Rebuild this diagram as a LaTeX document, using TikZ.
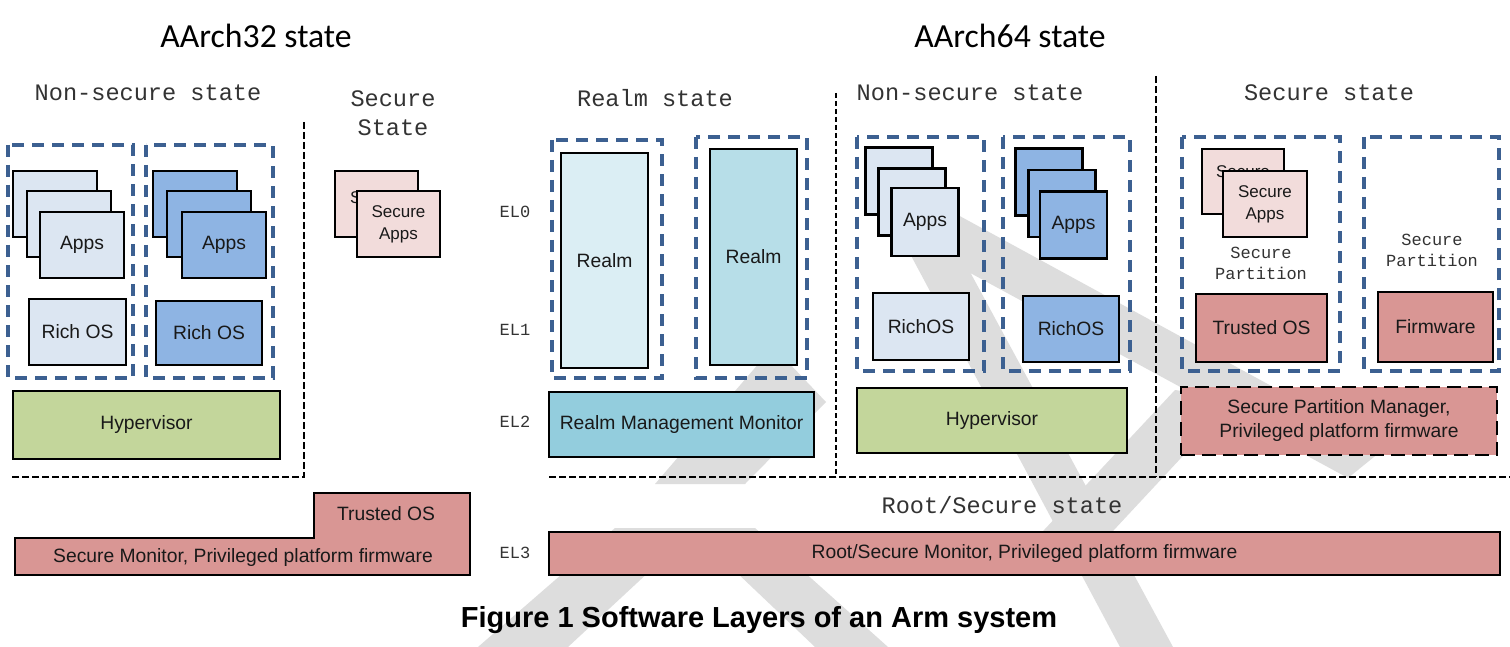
\documentclass[tikz,border=0pt]{standalone}
\usepackage{fontspec}
\setmainfont{Liberation Sans}
\newfontfamily\monof{Liberation Mono}
\newfontfamily\titlef{Carlito}
\definecolor{ltblue}{RGB}{220,230,242}
\definecolor{dkblue}{RGB}{142,180,227}
\definecolor{pinklt}{RGB}{242,220,219}
\definecolor{redc}{RGB}{217,150,148}
\definecolor{greenc}{RGB}{195,214,155}
\definecolor{realmA}{RGB}{219,238,244}
\definecolor{realmB}{RGB}{183,222,232}
\definecolor{rmmc}{RGB}{147,205,221}
\definecolor{grpc}{RGB}{60,96,145}
\definecolor{wmc}{RGB}{221,221,221}
\tikzset{
  bx/.style={draw=black, line width=2.7pt, inner sep=0pt, align=center, text=black!90,
    font=\fontsize{19.3}{24}\selectfont},
  ltb/.style={bx, fill=ltblue},
  dkb/.style={bx, fill=dkblue},
  sapp/.style={bx, fill=pinklt, font=\fontsize{17}{22}\selectfont},
  stxt/.style={inner sep=0pt, align=center, text=black!90, font=\fontsize{17}{22}\selectfont},
  redb/.style={bx, fill=redc},
  grp/.style={draw=grpc, line width=3.6pt, dash pattern=on 12pt off 8pt},
  divl/.style={draw=black, line width=2.3pt, dash pattern=on 7pt off 3pt},
  lbl/.style={font=\monof\fontsize{23.6}{29}\selectfont, text=black!80, align=center, inner sep=0pt},
  sml/.style={font=\monof\fontsize{17}{21}\selectfont, text=black!80, align=center, inner sep=0pt},
  ttl/.style={font=\titlef\fontsize{33.7}{38}\selectfont, inner sep=0pt},
}
\begin{document}
\begin{tikzpicture}[x=1pt,y=-1pt]
\useasboundingbox (0,0) rectangle (1510,647);
\fill[white] (0,0) rectangle (1510,647);

% watermark
\fill[wmc] (900,235) -- (950,235) -- (1173,647) -- (1120,647) -- cycle;
\fill[wmc] (956,214) -- (1385,448) -- (1348,478) -- (950,262) -- cycle;
\fill[wmc] (1030,545) -- (1175,390) -- (1235,400) -- (1100,545) -- cycle;
\fill[wmc] (655,484) -- (760,362) -- (788,362) -- (826,402) -- (745,484) -- cycle;
\fill[wmc] (615,528) -- (755,528) -- (888,647) -- (815,647) -- (693,531) -- (568,647) -- (478,647) -- cycle;

% titles
\node[ttl] (t32) at (256,36) {AArch32 state};
\node[ttl] (t64) at (1010,36) {AArch64 state};

% state labels
\node[lbl] (ns32) at (148,93) {Non-secure state};
\node[lbl] (s32) at (393,113) {Secure\\State};
\node[lbl] (rlm) at (655,98) {Realm state};
\node[lbl] (ns64) at (970,93) {Non-secure state};
\node[lbl] (s64) at (1329,93) {Secure state};
\node[lbl] (root) at (1002,505) {Root/Secure state};
\node[sml] (el0) at (515,212) {EL0};
\node[sml] (el1) at (515,330) {EL1};
\node[sml] (el2) at (515,422) {EL2};
\node[sml] (el3) at (515,553) {EL3};

% dividers
\coordinate (dA1) at (304,122); \coordinate (dA2) at (304,477); \coordinate (dA3) at (12,477);
\draw[divl] (dA1) -- (dA2) -- (dA3);
\coordinate (dB1) at (549,477); \coordinate (dB2) at (1510,477);
\draw[divl] (dB1) -- (dB2);
\coordinate (dC1) at (836,93); \coordinate (dC2) at (836,477);
\draw[divl, line width=2pt, dash pattern=on 5pt off 3pt] (dC1) -- (dC2);
\coordinate (dD1) at (1156,76); \coordinate (dD2) at (1156,477);
\draw[divl] (dD1) -- (dD2);

% AArch32 non-secure
\draw[grp] (8,145) rectangle (133,378);
\draw[grp] (146,145) rectangle (273,378);
\node[ltb, minimum width=84pt, minimum height=66pt] (a1b1) at (55,204) {Apps};
\node[ltb, minimum width=84pt, minimum height=66pt] (a1b2) at (69,224) {Apps};
\node[ltb, minimum width=84pt, minimum height=66pt] (a1f) at (82,245) {Apps};
\node[ltb, minimum width=97pt, minimum height=66pt] (ros1) at (77.5,332) {Rich OS};
\node[dkb, minimum width=84pt, minimum height=66pt] (a2b1) at (195,204) {Apps};
\node[dkb, minimum width=84pt, minimum height=66pt] (a2b2) at (209,224) {Apps};
\node[dkb, minimum width=84pt, minimum height=66pt] (a2f) at (224,245) {Apps};
\node[dkb, minimum width=106pt, minimum height=64pt] (ros2) at (209,333) {Rich OS};
\node[bx, fill=greenc, minimum width=267pt, minimum height=68pt] (hyp1) at (146.5,425) {Hypervisor};

% AArch32 secure
\node[sapp, minimum width=83pt, minimum height=66pt] (sab) at (376.5,204) {};
\node[stxt] (sabt) at (377,210) {Secure\\Apps};
\node[sapp, minimum width=83pt, minimum height=66pt] (saf) at (398.5,224) {Secure\\Apps};

% AArch32 EL3 step
\filldraw[fill=redc, draw=black, line width=2.8pt] (15,538) -- (314,538) -- (314,493) -- (470,493) -- (470,575) -- (15,575) -- cycle;
\node[font=\fontsize{19.3}{24}\selectfont, text=black!90] (tos32) at (386,514) {Trusted OS};
\node[font=\fontsize{19.3}{24}\selectfont, text=black!90] (sm32) at (243,558) {Secure Monitor, Privileged platform firmware};

% Realm
\draw[grp] (552,140) rectangle (662,378);
\draw[grp] (696,137) rectangle (807,378);
\node[bx, fill=realmA, minimum width=87pt, minimum height=215pt] (r1) at (604.5,260.5) {Realm};
\node[bx, fill=realmB, minimum width=87pt, minimum height=216pt] (r2) at (753.5,257) {Realm};
\node[bx, fill=rmmc, minimum width=265pt, minimum height=65pt] (rmm) at (681.5,424.5) {Realm Management Monitor};

% AArch64 non-secure
\draw[grp] (857,137) rectangle (984,371);
\draw[grp] (1003,137) rectangle (1130,371);
\node[ltb, minimum width=67pt, minimum height=67pt] (a3b1) at (899,181) {Apps};
\node[ltb, minimum width=67pt, minimum height=67pt] (a3b2) at (912,202) {Apps};
\node[ltb, minimum width=67pt, minimum height=68pt] (a3f) at (925,222) {Apps};
\node[ltb, minimum width=96pt, minimum height=67pt] (ros3) at (921,326.5) {RichOS};
\node[dkb, minimum width=67pt, minimum height=67pt] (a4b1) at (1049,182) {Apps};
\node[dkb, minimum width=67pt, minimum height=67pt] (a4b2) at (1062,203.5) {Apps};
\node[dkb, minimum width=67pt, minimum height=67pt] (a4f) at (1073.5,225) {Apps};
\node[dkb, minimum width=96pt, minimum height=66pt] (ros4) at (1071,329) {RichOS};
\node[bx, fill=greenc, minimum width=270pt, minimum height=65pt] (hyp2) at (992,420.5) {Hypervisor};

% AArch64 secure
\draw[grp] (1182,137) rectangle (1340,371);
\draw[grp] (1364,137) rectangle (1499,371);
\node[sapp, minimum width=82pt, minimum height=65pt] (ssb) at (1243,181.5) {};
\node[stxt] (ssbt) at (1243,184) {Secure\\Apps};
\node[sapp, minimum width=84pt, minimum height=66pt] (ssf) at (1265,204) {Secure\\Apps};
\node[sml] (sp1) at (1261,263) {Secure\\Partition};
\node[sml] (sp2) at (1432,250) {Secure\\Partition};
\node[redb, minimum width=131pt, minimum height=68pt] (tos64) at (1261.5,328) {Trusted OS};
\node[redb, minimum width=115pt, minimum height=70pt] (fw) at (1435.5,327) {Firmware};
\node[redb, dash pattern=on 14pt off 7pt, minimum width=316pt, minimum height=68pt] (spm) at (1339,421) {Secure Partition Manager,\\Privileged platform firmware};

% EL3 AArch64
\node[redb, minimum width=951pt, minimum height=43pt] (rsm) at (1024.5,553.5) {Root/Secure Monitor, Privileged platform firmware};

% caption
\node[font=\bfseries\fontsize{29}{34}\selectfont, inner sep=0pt] (cap) at (759,620) {Figure 1 Software Layers of an Arm system};
\end{tikzpicture}
\end{document}
